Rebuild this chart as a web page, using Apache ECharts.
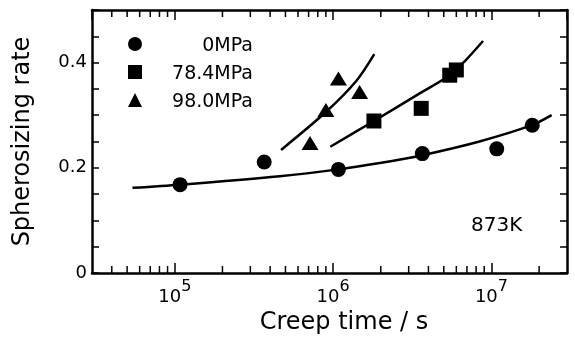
<!DOCTYPE html>
<html>
<head>
<meta charset="utf-8">
<script src="https://cdn.jsdelivr.net/npm/echarts@6/dist/echarts.min.js"></script>
<style>html,body{margin:0;padding:0;background:#fff;}#c{width:575px;height:343px;}</style>
</head>
<body>
<div id="c"></div>
<script>
// Measured points
const times0 = [1.08e5, 3.67e5, 1.08e6, 3.66e6, 1.08e7, 1.81e7];
const rates0 = [0.168, 0.211, 0.197, 0.227, 0.236, 0.281];
const times78 = [1.81e6, 3.6e6, 5.45e6, 6.0e6];
const rates78 = [0.289, 0.313, 0.376, 0.386];
const times98 = [7.15e5, 9.0e5, 1.08e6, 1.47e6];
const rates98 = [0.247, 0.31, 0.37, 0.344];
// Fitted curves
const fit0T = [5.4e4, 1.08e5, 4.6e5, 1.08e6, 1.97e6, 3.66e6, 8.4e6, 1.8e7, 2.4e7];
const fit0R = [0.162, 0.168, 0.184, 0.197, 0.209, 0.224, 0.250, 0.281, 0.300];
const fit78T = [9.6e5, 1.81e6, 3.5e6, 5.45e6, 6.8e6, 8.85e6];
const fit78R = [0.240, 0.289, 0.341, 0.376, 0.403, 0.441];
const fit98T = [4.69e5, 9.0e5, 1.4e6, 1.82e6];
const fit98R = [0.234, 0.306, 0.365, 0.416];
// Axes
const xMin = 3e4, xMax = 3e7;
const yMin = 0, yMax = 0.5, yStep = 0.05;
const yLabels = ['0', '0.2', '0.4'];
const minorTicks = [4e4,5e4,6e4,7e4,8e4,9e4,2e5,3e5,4e5,5e5,6e5,7e5,8e5,9e5,2e6,3e6,4e6,5e6,6e6,7e6,8e6,9e6,2e7];
const names = ['0MPa', '78.4MPa', '98.0MPa'];

const FONT = 'DejaVu Sans';
const zip = (a, b) => a.map((v, i) => [v, b[i]]);

const chart = echarts.init(document.getElementById('c'), null, {renderer: 'canvas'});
const xAxisBase = {
  type: 'log', logBase: 10, min: xMin, max: xMax,
  axisLine: {show: true, onZero: false, lineStyle: {color: '#000', width: 2.5}},
  axisTick: {show: true, inside: true, length: 10, lineStyle: {color: '#000', width: 1.5}},
  splitLine: {show: false},
  minorTick: {show: false}
};
const yAxisBase = {
  type: 'value', min: yMin, max: yMax, interval: yStep,
  axisLine: {show: true, onZero: false, lineStyle: {color: '#000', width: 2.5}},
  axisTick: {show: true, inside: true, length: 7, lineStyle: {color: '#000', width: 1.5}},
  splitLine: {show: false}
};
const markStyle = {color: '#000', opacity: 1};
const option = {
  backgroundColor: '#fff',
  animation: false,
  grid: {left: 92, right: 8, top: 10, bottom: 70, containLabel: false},
  title: {text: '873K', left: 466, top: 211, textStyle: {fontFamily: FONT, fontSize: 20, fontWeight: 'normal', color: '#000'}},
  legend: {
    data: names, orient: 'vertical', left: 123, top: 32, itemWidth: 14, itemHeight: 14, itemGap: 9,
    itemStyle: {color: '#000', opacity: 1},
    formatter: n => '{t|' + n + '}',
    textStyle: {fontFamily: FONT, fontSize: 19, color: '#000',
      rich: {t: {fontFamily: FONT, fontSize: 19, width: 106, align: 'right', padding: [5, 0, 0, 0], color: '#000'}}}
  },
  xAxis: [
    Object.assign({}, xAxisBase, {
      position: 'bottom',
      name: 'Creep time / s', nameLocation: 'middle', nameGap: 34,
      nameTextStyle: {fontFamily: FONT, fontSize: 24, color: '#000', padding: [0, 0, 0, 29]},
      axisLabel: {
        show: true, margin: 6, showMinLabel: false, showMaxLabel: false,
        formatter: v => {
          const e = Math.round(Math.log10(v));
          if (Math.abs(Math.log10(v) - e) > 0.01) return '';
          return '{b|10}{s|' + e + '}';
        },
        rich: {
          b: {fontFamily: FONT, fontSize: 18, color: '#000', lineHeight: 27, verticalAlign: 'bottom'},
          s: {fontFamily: FONT, fontSize: 16, color: '#000', lineHeight: 16, verticalAlign: 'top'}
        }
      }
    }),
    Object.assign({}, xAxisBase, {position: 'top', axisLabel: {show: false}})
  ],
  yAxis: [
    Object.assign({}, yAxisBase, {
      position: 'left',
      name: 'Spherosizing rate', nameLocation: 'middle', nameGap: 57, nameRotate: 90,
      nameTextStyle: {fontFamily: FONT, fontSize: 24, color: '#000'},
      axisLabel: {
        show: true, margin: 5, fontFamily: FONT, fontSize: 18, color: '#000',
        formatter: v => {
          const r = Math.round(v * 10) / 10;
          if (Math.abs(r - v) > 1e-9) return '';
          const s = String(r);
          return yLabels.indexOf(s) >= 0 ? s : '';
        }
      }
    }),
    Object.assign({}, yAxisBase, {position: 'right', axisLabel: {show: false}})
  ],
  series: [
    {name: 'fit0', type: 'line', data: zip(fit0T, fit0R), smooth: 0.3, showSymbol: false, symbol: 'none',
     lineStyle: {color: '#000', width: 2.5}, silent: true, z: 2},
    {name: 'fit78', type: 'line', data: zip(fit78T, fit78R), smooth: 0.3, showSymbol: false, symbol: 'none',
     lineStyle: {color: '#000', width: 2.5}, silent: true, z: 2},
    {name: 'fit98', type: 'line', data: zip(fit98T, fit98R), smooth: 0.3, showSymbol: false, symbol: 'none',
     lineStyle: {color: '#000', width: 2.5}, silent: true, z: 2},
    {name: names[0], type: 'scatter', data: zip(times0, rates0), symbol: 'circle', symbolSize: 15,
     itemStyle: markStyle, z: 3},
    {name: names[1], type: 'scatter', data: zip(times78, rates78), symbol: 'rect', symbolSize: 15,
     itemStyle: markStyle, z: 3},
    {name: names[2], type: 'scatter', data: zip(times98, rates98), symbol: 'triangle', symbolSize: [17, 14],
     itemStyle: markStyle, z: 3},
    {name: 'minorTicks', type: 'custom', data: minorTicks.map(v => [v, yMin]), silent: true, z: 4,
     renderItem: (params, api) => {
       const v = api.value(0);
       const b = api.coord([v, yMin]);
       const t = api.coord([v, yMax]);
       return {type: 'group', children: [
         {type: 'line', shape: {x1: b[0], y1: b[1], x2: b[0], y2: b[1] - 7}, style: {stroke: '#000', lineWidth: 1.5}},
         {type: 'line', shape: {x1: t[0], y1: t[1], x2: t[0], y2: t[1] + 7}, style: {stroke: '#000', lineWidth: 1.5}}
       ]};
     }}
  ]
};
chart.setOption(option);
</script>
</body>
</html>
